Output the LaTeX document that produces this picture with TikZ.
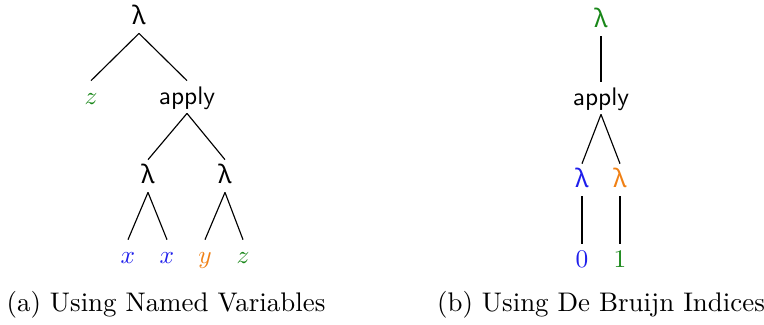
\documentclass[tikz,border=0pt]{standalone}
\usepackage{fontspec}
\newfontfamily\greekfont{Noto Sans}
\newcommand{\lam}{{\greekfont λ}}

\begin{document}
\begin{tikzpicture}[
    x=0.394pt, y=-0.394pt,
    term/.style={
        text=#1,
        anchor=base,
        text height=7.5pt,
        text depth=2pt,
        inner sep=1.5pt
    },
    term/.default=black,
    branch/.style={line width=0.45pt, draw=black},
    caption/.style={anchor=base, font=\rmfamily\fontsize{10.6}{13}\selectfont}
]

\definecolor{varblue}{RGB}{30,30,235}
\definecolor{varorange}{RGB}{240,128,20}
\definecolor{vargreen}{RGB}{25,135,25}

\useasboundingbox (0,0) rectangle (764,324);

% A. Named variables tree
\node[term] (root) at (139,24) {\lam};
\node[term=vargreen] (zfree) at (91,104) {$z$};
\node[term] (app) at (187,104) {\sffamily apply};
\node[term] (lamx) at (148,183) {\lam};
\node[term] (lamy) at (225,183) {\lam};
\node[term=varblue] (xbind) at (128,263) {$x$};
\node[term=varblue] (xbody) at (167,263) {$x$};
\node[term=varorange] (ybind) at (205,263) {$y$};
\node[term=vargreen] (zbody) at (243,263) {$z$};

\draw[branch] (root.south) -- (zfree.north);
\draw[branch] (root.south) -- (app.north);
\draw[branch] (app.south) -- (lamx.north);
\draw[branch] (app.south) -- (lamy.north);
\draw[branch] (lamx.south) -- (xbind.north);
\draw[branch] (lamx.south) -- (xbody.north);
\draw[branch] (lamy.south) -- (ybind.north);
\draw[branch] (lamy.south) -- (zbody.north);

\node[caption] (capa) at (166,311) {(a) Using Named Variables};

% B. De Bruijn indices tree
\node[term=vargreen] (droot) at (601,27) {\lam};
\node[term] (dapp) at (601,105) {\sffamily apply};
\node[term=varblue] (dlamzero) at (582,187) {\lam};
\node[term=varorange] (dlamone) at (620,187) {\lam};
\node[term=varblue] (zero) at (582,267) {0};
\node[term=vargreen] (one) at (620,267) {1};

\draw[branch] (droot.south) -- (dapp.north);
\draw[branch] (dapp.south) -- (dlamzero.north);
\draw[branch] (dapp.south) -- (dlamone.north);
\draw[branch] (dlamzero.south) -- (zero.north);
\draw[branch] (dlamone.south) -- (one.north);

\node[caption] (capb) at (601,311) {(b) Using De Bruijn Indices};

\end{tikzpicture}
\end{document}
